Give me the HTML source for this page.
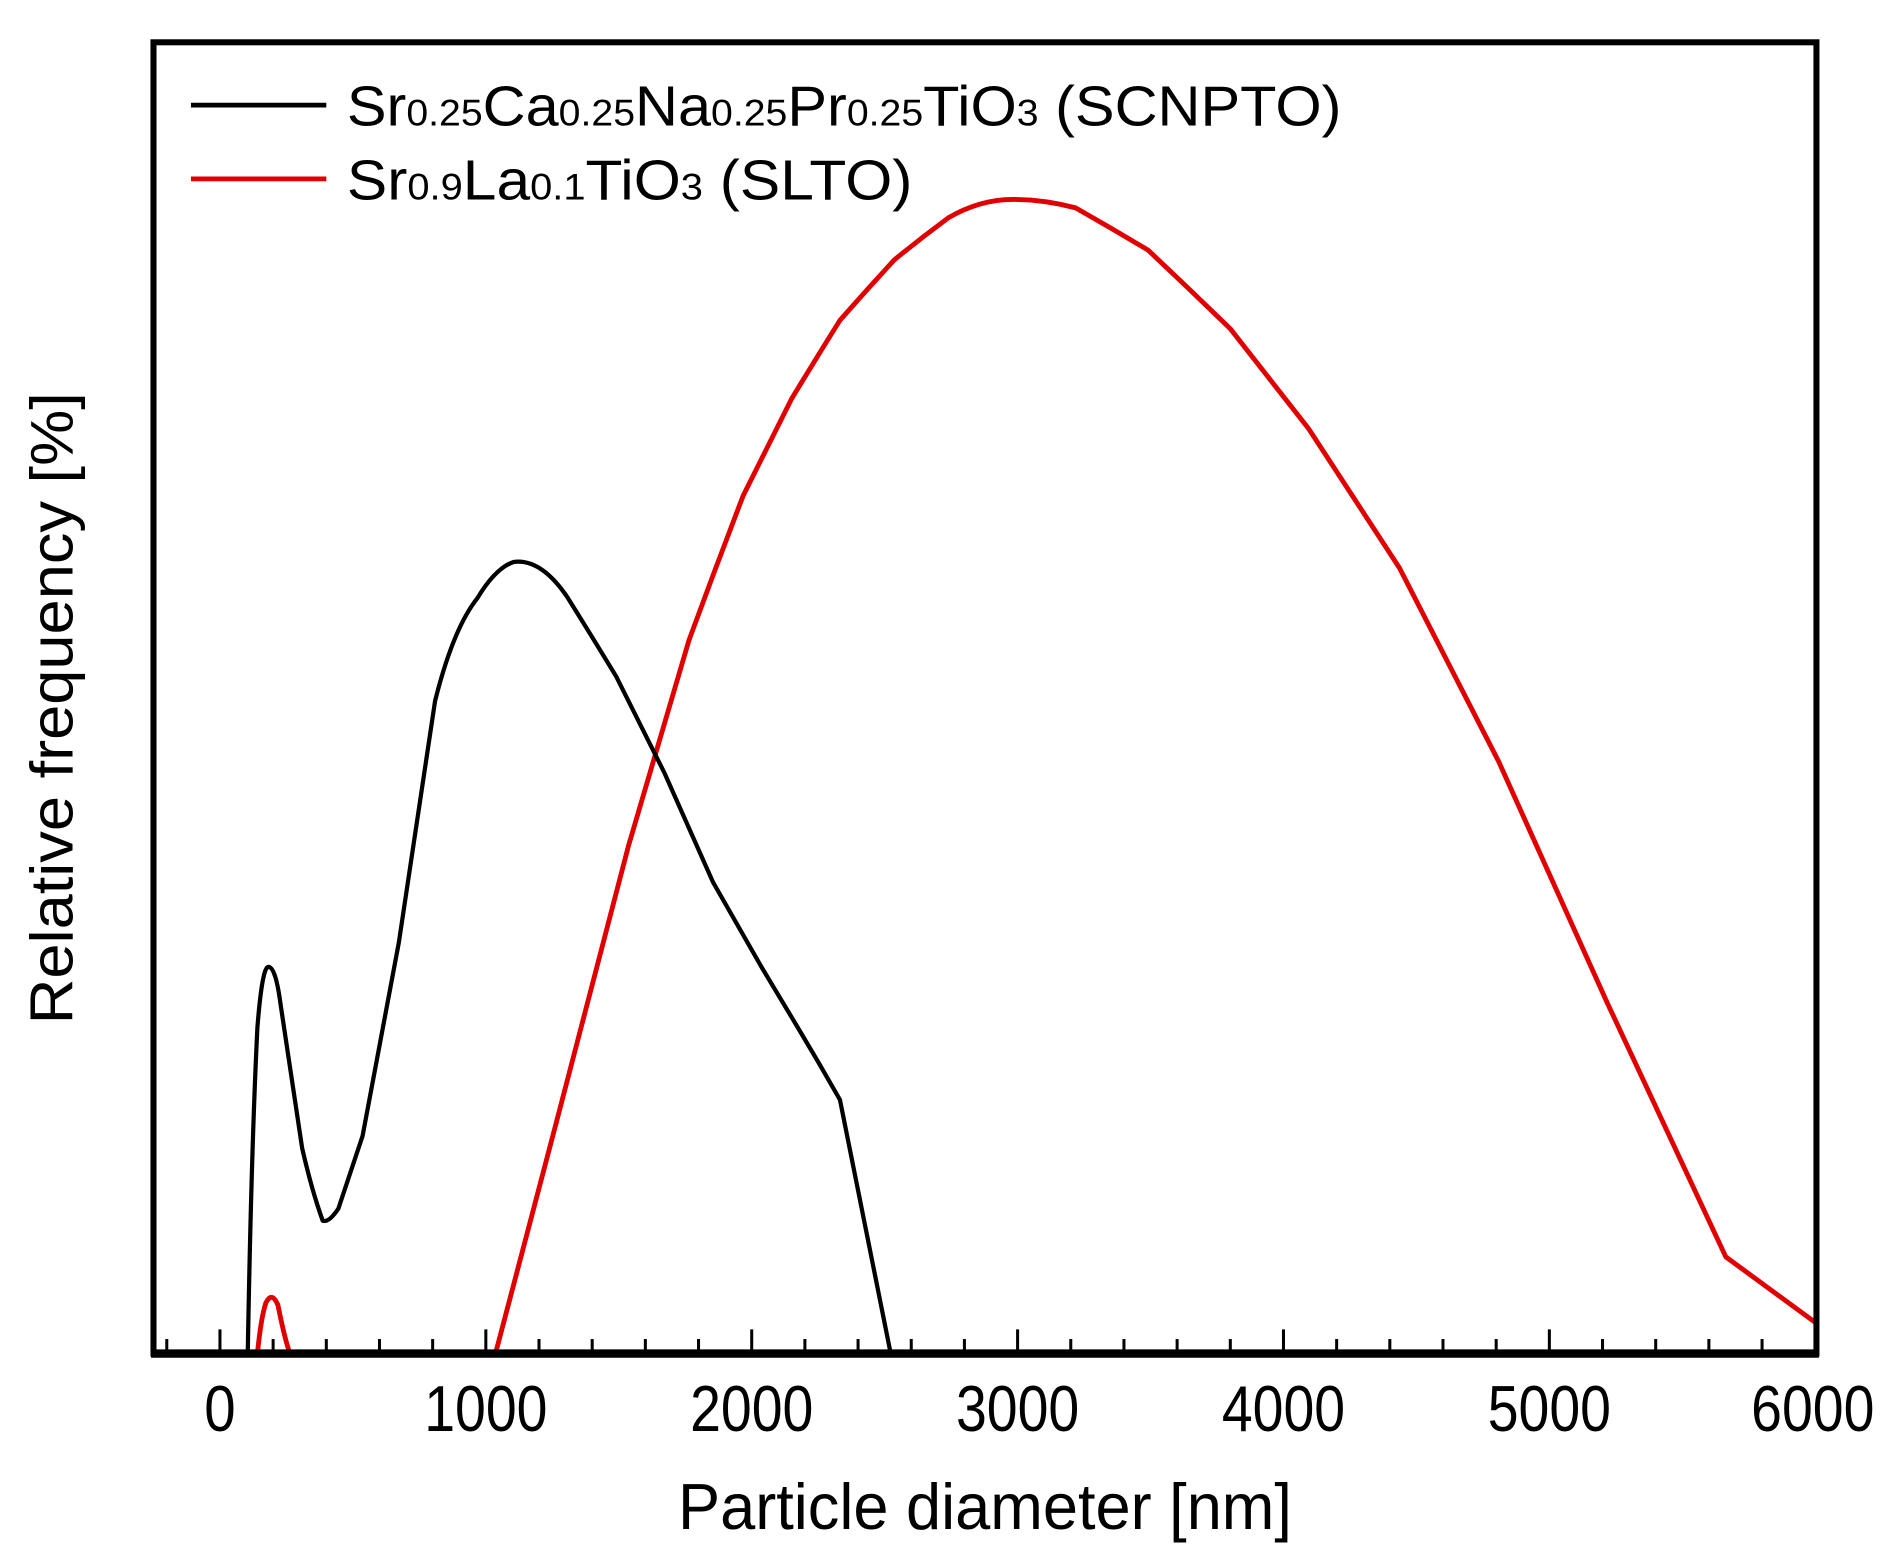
<!DOCTYPE html>
<html><head><style>html,body{margin:0;padding:0;background:#fff}svg{display:block}</style></head>
<body>
<svg width="1895" height="1559" viewBox="0 0 1568 1290" preserveAspectRatio="none" xmlns="http://www.w3.org/2000/svg" font-family="Liberation Sans, Arial, sans-serif">
<rect width="1568" height="1290" fill="#fff"/>
<g stroke="#000" stroke-width="2.5">
<line x1="138" y1="1120" x2="138" y2="1108"/>
<line x1="182" y1="1120" x2="182" y2="1100"/>
<line x1="226" y1="1120" x2="226" y2="1108"/>
<line x1="270" y1="1120" x2="270" y2="1108"/>
<line x1="314" y1="1120" x2="314" y2="1108"/>
<line x1="358" y1="1120" x2="358" y2="1108"/>
<line x1="402" y1="1120" x2="402" y2="1100"/>
<line x1="446" y1="1120" x2="446" y2="1108"/>
<line x1="490" y1="1120" x2="490" y2="1108"/>
<line x1="534" y1="1120" x2="534" y2="1108"/>
<line x1="578" y1="1120" x2="578" y2="1108"/>
<line x1="622" y1="1120" x2="622" y2="1100"/>
<line x1="666" y1="1120" x2="666" y2="1108"/>
<line x1="710" y1="1120" x2="710" y2="1108"/>
<line x1="754" y1="1120" x2="754" y2="1108"/>
<line x1="798" y1="1120" x2="798" y2="1108"/>
<line x1="842" y1="1120" x2="842" y2="1100"/>
<line x1="886" y1="1120" x2="886" y2="1108"/>
<line x1="930" y1="1120" x2="930" y2="1108"/>
<line x1="974" y1="1120" x2="974" y2="1108"/>
<line x1="1018" y1="1120" x2="1018" y2="1108"/>
<line x1="1062" y1="1120" x2="1062" y2="1100"/>
<line x1="1106" y1="1120" x2="1106" y2="1108"/>
<line x1="1150" y1="1120" x2="1150" y2="1108"/>
<line x1="1194" y1="1120" x2="1194" y2="1108"/>
<line x1="1238" y1="1120" x2="1238" y2="1108"/>
<line x1="1282" y1="1120" x2="1282" y2="1100"/>
<line x1="1326" y1="1120" x2="1326" y2="1108"/>
<line x1="1370" y1="1120" x2="1370" y2="1108"/>
<line x1="1414" y1="1120" x2="1414" y2="1108"/>
<line x1="1458" y1="1120" x2="1458" y2="1108"/>
</g>
<path id="red" fill="none" stroke="#e00000" stroke-width="4" stroke-linejoin="round" d="M182,1120 L213,1120 Q216,1090 220,1078 Q225,1068 230,1080 Q236,1110 240,1120 L410,1120 L460,930 Q490,815 520,700 Q545,615 570,530 Q592,470 615,410 Q635,370 655,330 Q675,297 695,265 Q717,240 740,215 Q762,197 785,180 Q811,165 838,165 Q864,165 890,172 Q920,189 950,207 Q984,239 1018,272 Q1050,313 1083,355 Q1120,412 1158,470 Q1199,550 1240,630 Q1285,730 1330,830 Q1379,935 1428,1040 L1503,1095"/>
<path id="blk" fill="none" stroke="#000" stroke-width="3.5" stroke-linejoin="round" d="M182,1120 L205,1120 Q208,950 213,850 Q217,800 222,800 Q228,800 232,830 Q241,890 250,950 Q258,985 267,1010 Q272,1012 280,1000 Q290,970 300,940 Q315,860 330,780 Q345,680 360,580 Q375,520 395,495 Q410,470 425,465 Q448,462 470,495 Q490,527 510,560 Q530,600 550,640 Q570,685 590,730 Q610,765 630,800 Q645,825 660,850 Q678,880 695,910 L737,1120"/>
<rect x="127" y="35" width="1376" height="1085" fill="none" stroke="#000" stroke-width="5"/>
<line x1="125" y1="1120" x2="1505" y2="1120" stroke="#000" stroke-width="7"/>
<g font-size="54" text-anchor="middle" fill="#000" lengthAdjust="spacingAndGlyphs">
<text x="182" y="1184" textLength="26" lengthAdjust="spacingAndGlyphs">0</text>
<text x="402" y="1184" textLength="102" lengthAdjust="spacingAndGlyphs">1000</text>
<text x="622" y="1184" textLength="102" lengthAdjust="spacingAndGlyphs">2000</text>
<text x="842" y="1184" textLength="102" lengthAdjust="spacingAndGlyphs">3000</text>
<text x="1062" y="1184" textLength="102" lengthAdjust="spacingAndGlyphs">4000</text>
<text x="1282" y="1184" textLength="102" lengthAdjust="spacingAndGlyphs">5000</text>
<text x="1500" y="1184" textLength="102" lengthAdjust="spacingAndGlyphs">6000</text>
</g>
<text x="815" y="1265" font-size="54" text-anchor="middle" textLength="508" lengthAdjust="spacingAndGlyphs">Particle diameter [nm]</text>
<text transform="translate(60,586) rotate(-90)" font-size="50" text-anchor="middle" textLength="523" lengthAdjust="spacingAndGlyphs">Relative frequency [%]</text>
<line x1="158" y1="87" x2="270" y2="87" stroke="#000" stroke-width="4"/>
<line x1="158" y1="148" x2="270" y2="148" stroke="#e00000" stroke-width="4"/>
<text x="287" y="104" font-size="47" textLength="823" lengthAdjust="spacingAndGlyphs">Sr<tspan font-size="31">0.25</tspan>Ca<tspan font-size="31">0.25</tspan>Na<tspan font-size="31">0.25</tspan>Pr<tspan font-size="31">0.25</tspan>TiO<tspan font-size="31">3</tspan> (SCNPTO)</text>
<text x="287" y="165" font-size="47" textLength="468" lengthAdjust="spacingAndGlyphs">Sr<tspan font-size="31">0.9</tspan>La<tspan font-size="31">0.1</tspan>TiO<tspan font-size="31">3</tspan> (SLTO)</text>
</svg>
</body></html>
